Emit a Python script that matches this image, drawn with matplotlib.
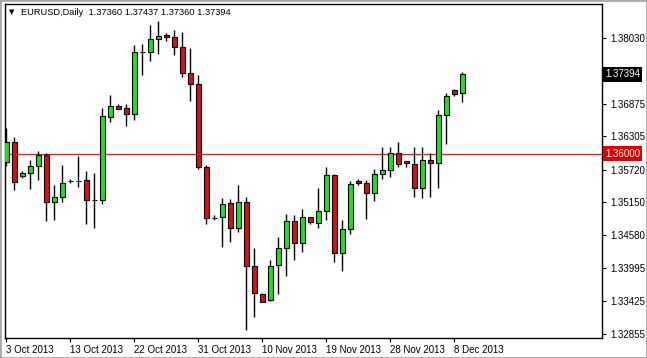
import matplotlib
matplotlib.use('Agg')
import matplotlib.pyplot as plt
import matplotlib.transforms as mtransforms
from matplotlib.patches import Rectangle

# EURUSD daily candles, 3 Oct 2013 - 9 Dec 2013 (Sunday bars included)
opens = [1.35862, 1.36201, 1.35607, 1.35659, 1.35782, 1.35985, 1.35152, 1.35240,
         1.35530, 1.35530, 1.35537, 1.35190, 1.35184, 1.36649, 1.36836, 1.36796,
         1.36701, 1.37780, 1.37775, 1.38002, 1.38077, 1.38037, 1.37862, 1.37408,
         1.37215, 1.35764, 1.34883, 1.34890, 1.35140, 1.34698, 1.35152, 1.34044,
         1.33544, 1.33439, 1.34051, 1.34348, 1.34825, 1.34446, 1.34887, 1.34785,
         1.34995, 1.35630, 1.34271, 1.34680, 1.35519, 1.35485, 1.35310, 1.35642,
         1.35712, 1.36009, 1.35874, 1.35817, 1.35397, 1.35892, 1.35834, 1.36673,
         1.37110, 1.37058]
highs = [1.36446, 1.36289, 1.35700, 1.35887, 1.36049, 1.36019, 1.35455, 1.35804,
         1.35560, 1.35962, 1.35700, 1.35665, 1.36801, 1.37028, 1.36866, 1.36876,
         1.37902, 1.37915, 1.38252, 1.38322, 1.38107, 1.38165, 1.38124, 1.37855,
         1.37378, 1.35799, 1.34925, 1.35222, 1.35205, 1.35455, 1.35250, 1.34359,
         1.33560, 1.34144, 1.34540, 1.34948, 1.34930, 1.35030, 1.34890, 1.35397,
         1.35764, 1.35640, 1.34838, 1.35519, 1.35565, 1.35542, 1.35729, 1.36124,
         1.36114, 1.36207, 1.35880, 1.36124, 1.36114, 1.36019, 1.36766, 1.37058,
         1.37128, 1.37437]
lows = [1.35787, 1.35362, 1.35582, 1.35390, 1.35542, 1.34831, 1.34843, 1.35152,
        1.35485, 1.35425, 1.34768, 1.34698, 1.35131, 1.36561, 1.36778, 1.36492,
        1.36591, 1.37378, 1.37628, 1.37740, 1.37972, 1.37728, 1.37348, 1.36929,
        1.35729, 1.34768, 1.34843, 1.34376, 1.34464, 1.34638, 1.32920, 1.33142,
        1.33410, 1.33430, 1.33549, 1.33869, 1.34152, 1.34289, 1.34768, 1.34708,
        1.34843, 1.34114, 1.33957, 1.34593, 1.35455, 1.34866, 1.35180, 1.35554,
        1.35600, 1.35775, 1.35775, 1.35240, 1.35222, 1.35250, 1.35408, 1.36166,
        1.37016, 1.36911]
closes = [1.36201, 1.35502, 1.35665, 1.35787, 1.35979, 1.35152, 1.35240, 1.35485,
          1.35530, 1.35528, 1.35187, 1.35195, 1.36661, 1.36841, 1.36789, 1.36701,
          1.37780, 1.37775, 1.38007, 1.38060, 1.38037, 1.37862, 1.37408, 1.37215,
          1.35761, 1.34873, 1.34880, 1.35117, 1.34698, 1.35152, 1.34044, 1.33561,
          1.33415, 1.34044, 1.34348, 1.34825, 1.34436, 1.34890, 1.34803, 1.34995,
          1.35630, 1.34271, 1.34680, 1.35467, 1.35484, 1.35310, 1.35642, 1.35712,
          1.36009, 1.35817, 1.35834, 1.35397, 1.35892, 1.35834, 1.36673, 1.37011,
          1.37051, 1.37394]

date_pos = [0, 8, 16, 24, 32, 40, 48, 56]
date_labels = ['3 Oct 2013', '13 Oct 2013', '22 Oct 2013', '31 Oct 2013',
               '10 Nov 2013', '19 Nov 2013', '28 Nov 2013', '8 Dec 2013']
price_ticks = [1.38030, 1.36875, 1.36305, 1.35720, 1.35150, 1.34580,
               1.33995, 1.33425, 1.32855]
level = 1.36000
last_price = 1.37394
header = 'EURUSD,Daily  1.37360 1.37437 1.37360 1.37394'

plt.rcParams['font.family'] = ['Liberation Sans', 'DejaVu Sans']

fig = plt.figure(figsize=(6.47, 3.58), dpi=100)
ax = fig.add_axes([5 / 647, 20.3 / 358, 597 / 647, 333.4 / 358])

x = list(range(len(opens)))
bottoms = [min(o, c) for o, c in zip(opens, closes)]
heights = [abs(c - o) for o, c in zip(opens, closes)]
colors = ['#22dd22' if c >= o else '#d01414' for o, c in zip(opens, closes)]

ax.vlines(x, lows, highs, color='black', lw=1, zorder=2)
ax.bar(x, heights, 0.62, bottom=bottoms, color=colors, edgecolor='black',
       linewidth=0.8, zorder=3)

ax.axhline(level, color='#d42020', lw=0.9, zorder=1)

ax.set_xlim(-0.16, 74.5)
ax.set_ylim(1.32785, 1.38614)

ax.set_xticks(date_pos)
ax.set_xticklabels(date_labels, ha='left')
ax.set_yticks(price_ticks)
ax.set_yticklabels(['%.5f' % p for p in price_ticks])
ax.yaxis.tick_right()
ax.tick_params(axis='x', direction='out', length=3, pad=2, labelsize=7)
ax.tick_params(axis='y', direction='out', length=3, pad=3, labelsize=7)
for s in ax.spines.values():
    s.set_linewidth(1)

trans = mtransforms.blended_transform_factory(ax.transAxes, ax.transData)
ax.text(1.005, level, '%.5f' % level, transform=trans, color='white', fontsize=7,
        va='center', ha='left', clip_on=False,
        bbox=dict(boxstyle='square,pad=0.25', fc='#e00000', ec='none'))
ax.text(1.005, last_price, '%.5f' % last_price, transform=trans, color='white',
        fontsize=7, va='center', ha='left', clip_on=False,
        bbox=dict(boxstyle='square,pad=0.25', fc='black', ec='none'))

ax.text(0.006, 0.975, '\u25bc', transform=ax.transAxes, fontsize=5,
        va='center', ha='left', family='DejaVu Sans')
ax.text(0.026, 0.975, header, transform=ax.transAxes, fontsize=6.7,
        va='center', ha='left')

fig.add_artist(Rectangle((0, 0), 1, 1, transform=fig.transFigure, fill=False,
                         edgecolor='#a8a8a8', lw=2))

fig.savefig('out.png', dpi=100)
